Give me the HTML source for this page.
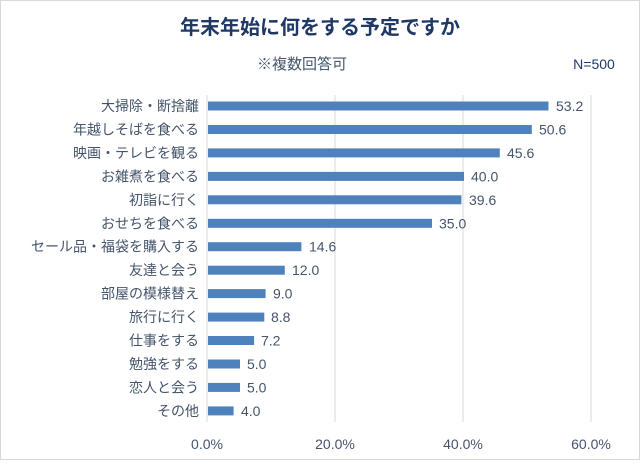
<!DOCTYPE html>
<html><head><meta charset="utf-8"><style>
body{margin:0;background:#fff;}
svg text{font-family:"Liberation Sans","Noto Sans CJK JP",sans-serif;}
</style></head><body>
<svg width="640" height="460" xmlns="http://www.w3.org/2000/svg">
<rect x="0.5" y="0.5" width="639" height="459" fill="#fff" stroke="#d9d9d9"/>
<text x="320" y="34" text-anchor="middle" font-size="20" font-weight="bold" fill="#1f3864">年末年始に何をする予定ですか</text>
<text x="302" y="69" text-anchor="middle" font-size="15" fill="#44546a">※複数回答可</text>
<text x="594" y="69" text-anchor="middle" font-size="14" fill="#1f3864">N=500</text>
<g stroke="#d9d9d9" stroke-width="1">
<line x1="207" y1="95" x2="207" y2="422"/>
<line x1="335" y1="95" x2="335" y2="422"/>
<line x1="463" y1="95" x2="463" y2="422"/>
<line x1="591" y1="95" x2="591" y2="422"/>
</g>
<g font-size="14" fill="#44546a">
<text x="207" y="449" text-anchor="middle">0.0%</text>
<text x="335" y="449" text-anchor="middle">20.0%</text>
<text x="463" y="449" text-anchor="middle">40.0%</text>
<text x="591" y="449" text-anchor="middle">60.0%</text>
</g>
<g fill="#4f81bd">
<rect x="208" y="101.5" width="340.5" height="9"/>
<rect x="208" y="125" width="323.8" height="9"/>
<rect x="208" y="148.4" width="291.8" height="9"/>
<rect x="208" y="171.9" width="256" height="9"/>
<rect x="208" y="195.3" width="253.4" height="9"/>
<rect x="208" y="218.8" width="224" height="9"/>
<rect x="208" y="242.2" width="93.4" height="9"/>
<rect x="208" y="265.7" width="76.8" height="9"/>
<rect x="208" y="289.1" width="57.6" height="9"/>
<rect x="208" y="312.6" width="56.3" height="9"/>
<rect x="208" y="336" width="46.1" height="9"/>
<rect x="208" y="359.5" width="32" height="9"/>
<rect x="208" y="382.9" width="32" height="9"/>
<rect x="208" y="406.4" width="25.6" height="9"/>
</g>
<g font-size="14" fill="#44546a" text-anchor="end">
<text x="199" y="111">大掃除・断捨離</text>
<text x="199" y="134.5">年越しそばを食べる</text>
<text x="199" y="158">映画・テレビを観る</text>
<text x="199" y="181.4">お雑煮を食べる</text>
<text x="199" y="204.8">初詣に行く</text>
<text x="199" y="228.3">おせちを食べる</text>
<text x="199" y="251.7">セール品・福袋を購入する</text>
<text x="199" y="275.2">友達と会う</text>
<text x="199" y="298.6">部屋の模様替え</text>
<text x="199" y="322.1">旅行に行く</text>
<text x="199" y="345.5">仕事をする</text>
<text x="199" y="369">勉強をする</text>
<text x="199" y="392.4">恋人と会う</text>
<text x="199" y="415.9">その他</text>
</g>
<g font-size="14" fill="#44546a">
<text x="556" y="111">53.2</text>
<text x="539" y="134.5">50.6</text>
<text x="507" y="158">45.6</text>
<text x="471" y="181.4">40.0</text>
<text x="469" y="204.8">39.6</text>
<text x="439" y="228.3">35.0</text>
<text x="309" y="251.7">14.6</text>
<text x="292" y="275.2">12.0</text>
<text x="273" y="298.6">9.0</text>
<text x="271" y="322.1">8.8</text>
<text x="261" y="345.5">7.2</text>
<text x="247" y="369">5.0</text>
<text x="247" y="392.4">5.0</text>
<text x="241" y="415.9">4.0</text>
</g>
</svg>
</body></html>
